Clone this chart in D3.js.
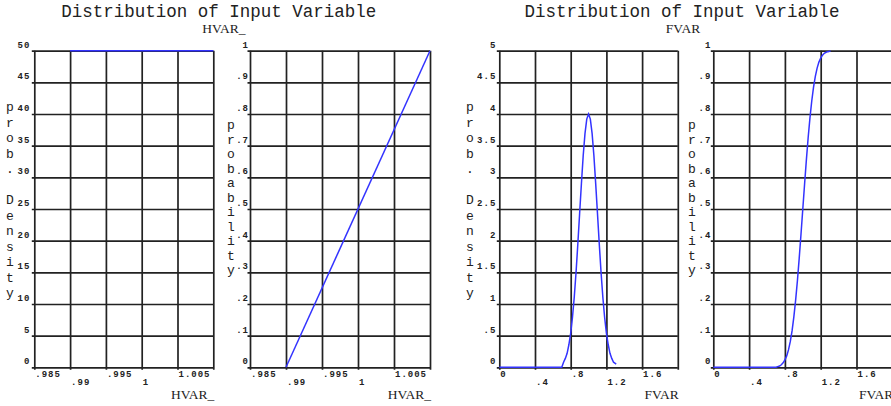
<!DOCTYPE html>
<html>
<head>
<meta charset="utf-8">
<script src="https://cdn.jsdelivr.net/npm/d3@7"></script>
<style>
  body { margin: 0; background: #fff; }
  svg { display: block; }
</style>
</head>
<body>
<div id="chart"></div>
<script>
// x axis ticks (HVAR_ and FVAR)
const hvarTicks = [0.985, 0.99, 0.995, 1, 1.005, 1.01];
const hvarTickLabels = [".985", ".99", ".995", "1", "1.005", ""];
const fvarTicks = [0, 0.4, 0.8, 1.2, 1.6, 2];
const fvarTickLabels = ["0", ".4", ".8", "1.2", "1.6", ""];

// y axis ticks
const hvarDensityTicks = [0, 5, 10, 15, 20, 25, 30, 35, 40, 45, 50];
const hvarDensityLabels = ["0", "5", "10", "15", "20", "25", "30", "35", "40", "45", "50"];
const fvarDensityTicks = [0, 0.5, 1, 1.5, 2, 2.5, 3, 3.5, 4, 4.5, 5];
const fvarDensityLabels = ["0", ".5", "1", "1.5", "2", "2.5", "3", "3.5", "4", "4.5", "5"];
const cdfTicks = [0, 0.1, 0.2, 0.3, 0.4, 0.5, 0.6, 0.7, 0.8, 0.9, 1];
const cdfLabels = ["0", ".1", ".2", ".3", ".4", ".5", ".6", ".7", ".8", ".9", "1"];

// series
const hvarX = [0.99, 1.01];
const hvarDensity = [50, 50];
const hvarCdf = [0, 1];

const fvarX = [0, 0.70, 0.72, 0.74, 0.76, 0.78, 0.80, 0.82, 0.84, 0.86, 0.88, 0.90,
  0.92, 0.94, 0.96, 0.98, 1.00, 1.02, 1.04, 1.06, 1.08, 1.10, 1.12, 1.14, 1.16,
  1.18, 1.20, 1.22, 1.24, 1.26, 1.28, 1.31];
const fvarDensity = [0, 0, 0.08, 0.14, 0.22, 0.36, 0.54, 0.79, 1.11, 1.5, 1.95, 2.43,
  2.9, 3.34, 3.69, 3.92, 4.0, 3.92, 3.69, 3.34, 2.9, 2.43, 1.95, 1.5, 1.11,
  0.79, 0.54, 0.36, 0.22, 0.14, 0.08, 0.05];
const fvarCdf = [0, 0, 0.002, 0.004, 0.008, 0.014, 0.023, 0.036, 0.055, 0.081, 0.115, 0.159,
  0.212, 0.274, 0.345, 0.421, 0.5, 0.579, 0.655, 0.726, 0.788, 0.841, 0.885, 0.919, 0.945,
  0.964, 0.977, 0.986, 0.992, 0.995, 0.997, 0.999];

const W = 891, H = 406;
const plotTop = 50.7, plotBottom = 367.3;
const ink = "#222";
const blue = "#3333ff";

const svg = d3.select("#chart").append("svg")
  .attr("width", W).attr("height", H);

svg.append("rect").attr("width", W).attr("height", H).attr("fill", "#fff");

const panels = [
  { left: 34.3, right: 213.3, xDomain: [0.985, 1.01], xTicks: hvarTicks, xLabels: hvarTickLabels,
    yDomain: [0, 50], yTicks: hvarDensityTicks, yLabels: hvarDensityLabels, yGap: 4,
    letters: "prob. Density", lettersX: 10, lettersTop: 111, lettersStep: 15.5,
    xs: hvarX, ys: hvarDensity, title: "HVAR_" },
  { left: 250, right: 430, xDomain: [0.985, 1.01], xTicks: hvarTicks, xLabels: hvarTickLabels,
    yDomain: [0, 1], yTicks: cdfTicks, yLabels: cdfLabels, yGap: 1,
    letters: "probability", lettersX: 231, lettersTop: 129, lettersStep: 14.5,
    xs: hvarX, ys: hvarCdf, title: "HVAR_" },
  { left: 499.3, right: 677.8, xDomain: [0, 2], xTicks: fvarTicks, xLabels: fvarTickLabels,
    yDomain: [0, 5], yTicks: fvarDensityTicks, yLabels: fvarDensityLabels, yGap: 3,
    letters: "prob. Density", lettersX: 470, lettersTop: 111, lettersStep: 15.5,
    xs: fvarX, ys: fvarDensity, title: "FVAR" },
  { left: 713.3, right: 892.3, xDomain: [0, 2], xTicks: fvarTicks, xLabels: fvarTickLabels,
    yDomain: [0, 1], yTicks: cdfTicks, yLabels: cdfLabels, yGap: 2,
    letters: "probability", lettersX: 692, lettersTop: 129, lettersStep: 14.5,
    xs: fvarX, ys: fvarCdf, title: "FVAR" }
];

function drawPanel(p) {
  const g = svg.append("g");
  const x = d3.scaleLinear().domain(p.xDomain).range([p.left, p.right]);
  const y = d3.scaleLinear().domain(p.yDomain).range([plotBottom, plotTop]);
  const w = p.right - p.left, h = plotBottom - plotTop;

  // horizontal grid + left stubs
  const yAxis = g.append("g")
    .attr("transform", `translate(${p.left - 2.5},0)`)
    .call(d3.axisLeft(y).tickValues(p.yTicks).tickSizeOuter(0).tickSizeInner(-(w + 2.5)).tickFormat(""));
  yAxis.select(".domain").remove();

  // vertical grid + bottom stubs
  const xAxis = g.append("g")
    .attr("transform", `translate(0,${plotBottom + 2.5})`)
    .call(d3.axisBottom(x).tickValues(p.xTicks).tickSizeOuter(0).tickSizeInner(-(h + 2.5)).tickFormat(""));
  xAxis.select(".domain").remove();

  g.selectAll(".tick line")
    .attr("stroke", ink)
    .attr("stroke-width", 1.7);

  // y tick labels
  g.append("g").selectAll("text")
    .data(p.yTicks)
    .join("text")
    .attr("x", p.left - p.yGap)
    .attr("y", (d) => y(d) - 3)
    .attr("text-anchor", "end")
    .attr("font-family", "Liberation Mono, monospace")
    .attr("font-weight", "bold")
    .attr("font-size", 9)
    .attr("letter-spacing", 1)
    .attr("fill", ink)
    .text((d, i) => p.yLabels[i]);

  // x tick labels, staggered in two rows
  g.append("g").selectAll("text")
    .data(p.xTicks)
    .join("text")
    .attr("x", (d) => x(d) + 1)
    .attr("y", (d, i) => (i % 2 === 0 ? 376.5 : 384.5))
    .attr("font-family", "Liberation Mono, monospace")
    .attr("font-weight", "bold")
    .attr("font-size", 9)
    .attr("letter-spacing", 1)
    .attr("fill", ink)
    .text((d, i) => p.xLabels[i]);

  // vertical y-axis label, one letter per line
  g.append("g").selectAll("text")
    .data(p.letters.split(""))
    .join("text")
    .attr("x", p.lettersX)
    .attr("y", (d, i) => p.lettersTop + i * p.lettersStep)
    .attr("text-anchor", "middle")
    .attr("font-family", "Liberation Mono, monospace")
    .attr("font-size", 13)
    .attr("fill", ink)
    .text((d) => d);

  // x axis title
  g.append("text")
    .attr("x", p.right + 1)
    .attr("y", 398.5)
    .attr("text-anchor", "end")
    .attr("font-family", "Liberation Serif, serif")
    .attr("font-size", 13.5)
    .attr("fill", ink)
    .text(p.title);

  // the curve
  const pts = p.xs.map((d, i) => [d, p.ys[i]]);
  g.append("path")
    .datum(pts)
    .attr("fill", "none")
    .attr("stroke", blue)
    .attr("stroke-width", 1.5)
    .attr("d", d3.line().x((d) => x(d[0])).y((d) => y(d[1])));
}

panels.forEach(drawPanel);

// titles over each pair
const titles = [
  { x: 218.7, sub: "HVAR_", subX: 224 },
  { x: 682, sub: "FVAR", subX: 683 }
];
titles.forEach((t) => {
  svg.append("text")
    .attr("x", t.x).attr("y", 17)
    .attr("text-anchor", "middle")
    .attr("font-family", "Liberation Mono, monospace")
    .attr("font-size", 17.5)
    .attr("fill", ink)
    .text("Distribution of Input Variable");
  svg.append("text")
    .attr("x", t.subX).attr("y", 32.5)
    .attr("text-anchor", "middle")
    .attr("font-family", "Liberation Serif, serif")
    .attr("font-size", 13.5)
    .attr("fill", ink)
    .text(t.sub);
});
</script>
</body>
</html>
